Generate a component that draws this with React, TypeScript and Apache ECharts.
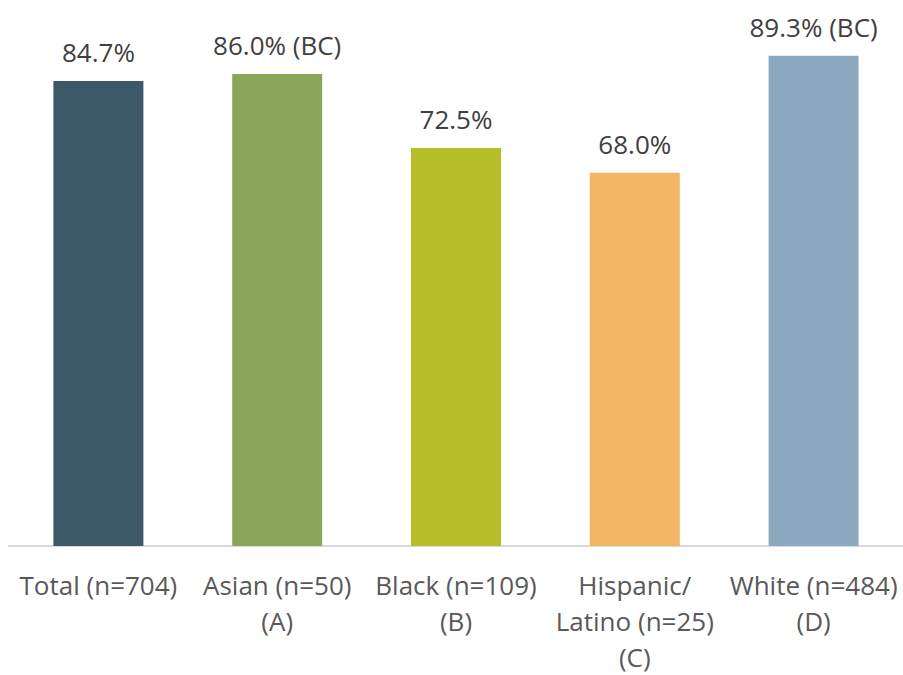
import React, { useEffect, useRef } from "react";
import * as echarts from "echarts";

const categories = [
  "Total (n=704)",
  "Asian (n=50)\n(A)",
  "Black (n=109)\n(B)",
  "Hispanic/\nLatino (n=25)\n(C)",
  "White (n=484)\n(D)",
];
const values = [84.7, 86.0, 72.5, 68.0, 89.3];
const valueLabels = ["84.7%", "86.0% (BC)", "72.5%", "68.0%", "89.3% (BC)"];
const barColors = ["#3D5869", "#8BA65B", "#B6BF2A", "#F2B665", "#8CAABF"];

export default function App() {
  const ref = useRef<HTMLDivElement>(null);
  useEffect(() => {
    if (!ref.current) return;
    const chart = echarts.init(ref.current, undefined, { renderer: "svg" });
    chart.setOption({
      animation: false,
      grid: { left: 9, right: -3, top: 52, bottom: 123, containLabel: false },
      xAxis: {
        type: "category",
        data: categories,
        axisLine: { show: true, lineStyle: { color: "#D9D9D9", width: 2 } },
        axisTick: { show: false },
        axisLabel: {
          interval: 0,
          color: "#595959",
          fontFamily: "Open Sans",
          fontSize: 26,
          lineHeight: 36,
          margin: 21,
        },
      },
      yAxis: {
        type: "value",
        min: 0,
        max: 90,
        show: false,
        splitLine: { show: false },
      },
      series: [
        {
          type: "bar",
          barWidth: 90,
          data: values.map((v, i) => ({
            value: v,
            itemStyle: { color: barColors[i] },
            label: { formatter: valueLabels[i] },
          })),
          label: {
            show: true,
            position: "top",
            distance: 16,
            color: "#404040",
            fontFamily: "Open Sans",
            fontSize: 26,
          },
        },
      ],
    });
    return () => chart.dispose();
  }, []);
  return <div ref={ref} style={{ width: 903, height: 675, position: "absolute", left: 0, top: 0 }} />;
}
